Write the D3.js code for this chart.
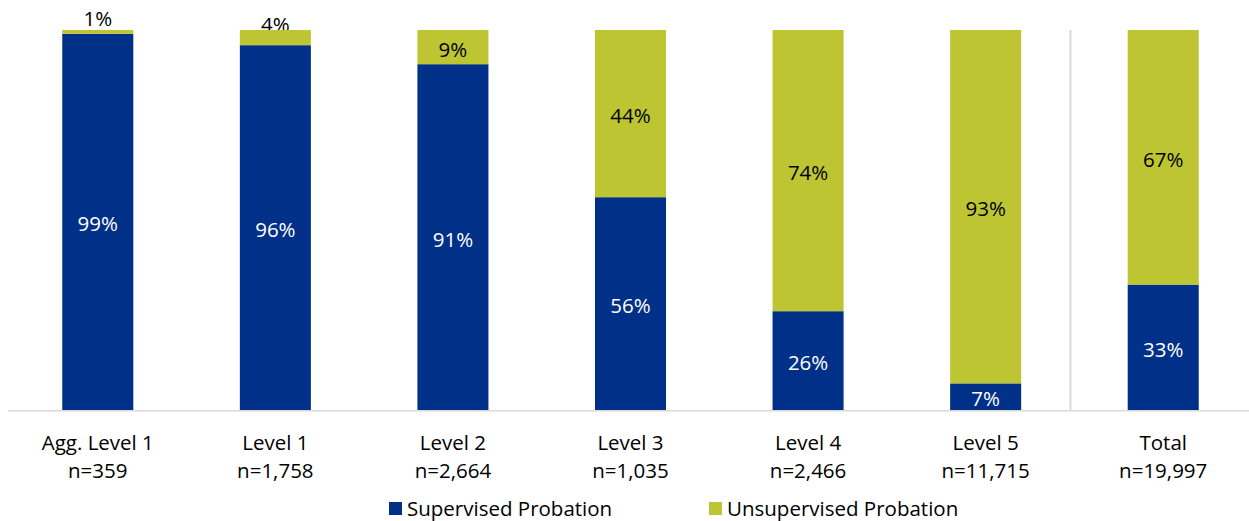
<!DOCTYPE html>
<html>
<head>
<meta charset="utf-8">
<script src="https://cdn.jsdelivr.net/npm/d3@7"></script>
<style>
  html, body { margin: 0; padding: 0; background: #ffffff; }
  svg { display: block; font-family: "Open Sans", "Liberation Sans", sans-serif; }
</style>
</head>
<body>
<svg id="chart" width="1249" height="521"></svg>
<script>
// Offense levels and their case counts
const categories = ["Agg. Level 1", "Level 1", "Level 2", "Level 3", "Level 4", "Level 5", "Total"];
const counts = ["n=359", "n=1,758", "n=2,664", "n=1,035", "n=2,466", "n=11,715", "n=19,997"];

// Share of sentences (%) per probation type
const supervised = [99, 96, 91, 56, 26, 7, 33];
const unsupervised = [1, 4, 9, 44, 74, 93, 67];

const seriesNames = ["Supervised Probation", "Unsupervised Probation"];
const colors = ["#003087", "#BDC532"];

const svg = d3.select("#chart");
const W = 1249, H = 521;
const plot = { left: 9, right: 1252, top: 30, bottom: 410 };
const fontSize = 20.5;

const x = d3.scaleBand()
  .domain(categories)
  .range([plot.left, plot.right])
  .paddingInner(0.6)
  .paddingOuter(0.3);

const y = d3.scaleLinear()
  .domain([0, 100])
  .range([plot.bottom, plot.top]);

const rows = categories.map((c, i) => ({
  category: c,
  count: counts[i],
  "Supervised Probation": supervised[i],
  "Unsupervised Probation": unsupervised[i]
}));

const stacked = d3.stack().keys(seriesNames)(rows);

// Labels for slivers too thin to hold text sit just above the bar, beneath it
const thin = 20;
const underLayer = svg.append("g");
const barLayer = svg.append("g");
const labelLayer = svg.append("g");

stacked.forEach((layer, si) => {
  barLayer.selectAll(null)
    .data(layer)
    .join("rect")
    .attr("x", d => x(d.data.category))
    .attr("width", x.bandwidth())
    .attr("y", d => y(d[1]))
    .attr("height", d => y(d[0]) - y(d[1]))
    .attr("fill", colors[si]);

  layer.forEach(d => {
    const h = y(d[0]) - y(d[1]);
    const value = d[1] - d[0];
    const cx = x(d.data.category) + x.bandwidth() / 2;
    const cy = (y(d[0]) + y(d[1])) / 2;
    const small = h < thin;
    (small ? underLayer : labelLayer).append("text")
      .attr("x", cx)
      .attr("y", small ? cy - 14 : cy + 1.5)
      .attr("text-anchor", "middle")
      .attr("dominant-baseline", "central")
      .attr("font-size", fontSize)
      .attr("fill", si === 0 ? "#ffffff" : "#000000")
      .text(value + "%");
  });
});

// Baseline axis
svg.append("line")
  .attr("x1", 8).attr("x2", W)
  .attr("y1", plot.bottom + 0.75).attr("y2", plot.bottom + 0.75)
  .attr("stroke", "#d9d9d9")
  .attr("stroke-width", 1.5);

// Divider between the individual levels and the total
const divX = x("Total") - x.step() * x.paddingInner() / 2 - 4;
svg.append("line")
  .attr("x1", divX).attr("x2", divX)
  .attr("y1", plot.top).attr("y2", plot.bottom)
  .attr("stroke", "#d9d9d9")
  .attr("stroke-width", 2);

// Category labels
const catG = svg.append("g");
rows.forEach(r => {
  const cx = x(r.category) + x.bandwidth() / 2;
  catG.append("text")
    .attr("x", cx).attr("y", 450)
    .attr("text-anchor", "middle")
    .attr("font-size", fontSize)
    .attr("fill", "#000")
    .text(r.category);
  catG.append("text")
    .attr("x", cx).attr("y", 478)
    .attr("text-anchor", "middle")
    .attr("font-size", fontSize)
    .attr("fill", "#000")
    .text(r.count);
});

// Legend
const legend = svg.append("g");
const legendX = [389, 709];
seriesNames.forEach((name, i) => {
  legend.append("rect")
    .attr("x", legendX[i]).attr("y", 502)
    .attr("width", 13).attr("height", 13)
    .attr("fill", colors[i]);
  legend.append("text")
    .attr("x", legendX[i] + 18).attr("y", 516)
    .attr("font-size", fontSize)
    .attr("fill", "#000")
    .text(name);
});
</script>
</body>
</html>
